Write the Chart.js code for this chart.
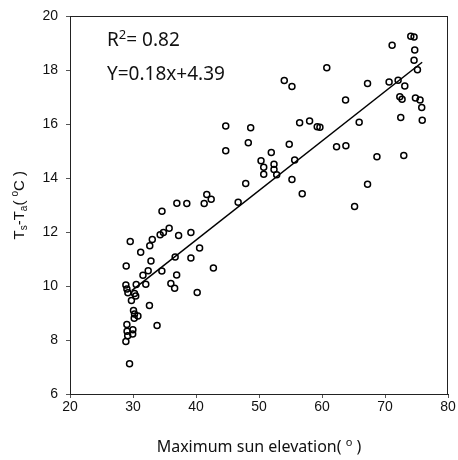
<!DOCTYPE html>
<html lang="en">

<head>
    <meta charset="UTF-8">
    <title>Ts-Ta vs maximum sun elevation</title>
    <script src="https://cdn.jsdelivr.net/npm/chart.js"></script>
    <style>
        html, body { margin: 0; padding: 0; background: #fff; }
    </style>
</head>

<body>
    <canvas id="scatterChart" width="458" height="460"></canvas>

    <script>
        // Maximum sun elevation (deg) and Ts-Ta (oC)
        const sunElevation = [
            29.45, 28.87, 29.16, 29.95, 29.06, 29.98, 29.03, 33.82, 30.08, 30.24,
            30.78, 30.19, 32.61, 29.75, 30.24, 30.43, 28.87, 29.03, 29.19, 30.51,
            32.03, 31.58, 32.41, 34.58, 36.93, 36.01, 36.61, 40.19, 42.76, 36.69,
            32.85, 39.19, 40.57, 28.92, 31.22, 32.66, 33.06, 29.56, 34.31, 34.83,
            35.74, 37.24, 39.19, 34.60, 36.96, 38.54, 41.30, 41.71, 42.41, 46.69,
            47.89, 44.72, 48.68, 44.72, 48.30, 54.01, 55.23, 60.76, 50.32, 50.75,
            50.75, 52.38, 52.38, 52.81, 51.95, 54.80, 55.66, 55.23, 56.86, 56.45,
            58.03, 59.24, 59.67, 67.23, 65.17, 68.72, 72.98, 62.31, 63.79, 65.90,
            72.50, 75.91, 75.83, 74.09, 74.61, 71.13, 74.72, 74.61, 75.15, 67.23,
            70.65, 72.08, 73.14, 63.74, 72.35, 72.71, 74.83, 75.56
        ];
        const tempDiff = [
            7.12, 7.95, 8.16, 8.22, 8.33, 8.38, 8.58, 8.54, 9.10, 8.97,
            8.89, 8.81, 9.28, 9.47, 9.73, 9.63, 10.04, 9.89, 9.75, 10.06,
            10.07, 10.40, 10.57, 10.56, 10.41, 10.10, 9.92, 9.76, 10.67, 11.08,
            10.93, 11.04, 11.41, 10.75, 11.26, 11.50, 11.73, 11.65, 11.90, 11.99,
            12.15, 11.88, 11.99, 12.78, 13.07, 13.06, 13.06, 13.40, 13.22, 13.11,
            13.80, 15.94, 15.87, 15.02, 15.32, 17.62, 17.40, 18.10, 14.65, 14.41,
            14.15, 14.52, 14.32, 14.13, 14.95, 15.26, 14.68, 13.95, 13.42, 16.06,
            16.12, 15.91, 15.89, 13.78, 12.95, 14.80, 14.84, 15.17, 15.20, 16.08,
            16.25, 16.15, 16.62, 19.26, 19.24, 18.93, 18.75, 18.37, 18.02, 17.51,
            17.57, 17.63, 17.42, 16.90, 17.02, 16.93, 16.97, 16.90
        ];

        // regression line ends as drawn
        const fitX = [29.8, 75.9];
        const fitY = [9.83, 18.3];

        const xTitle = [['Maximum sun elevation( ', 'n'], ['o', 'sup'], [' )', 'n']];
        const yTitle = [['T', 'n'], ['s', 'sub'], ['-T', 'n'], ['a', 'sub'], ['( ', 'n'], ['o', 'sup'], ['C )', 'n']];
        const r2Label = [['R', 'n'], ['2', 'sup'], ['= 0.82', 'n']];
        const eqLabel = [['Y=0.18x+4.39', 'n']];

        const points = sunElevation.map((x, i) => ({ x: x, y: tempDiff[i] }));
        const fitLine = fitX.map((x, i) => ({ x: x, y: fitY[i] }));

        // draws text with sub/superscript pieces
        function drawRich(ctx, parts, x, y, size, family, center) {
            const fontFor = p => (p === 'n' ? size : Math.round(size * 0.68)) + 'px ' + family;
            let total = 0;
            parts.forEach(([t, p]) => { ctx.font = fontFor(p); total += ctx.measureText(t).width; });
            let cx = center ? x - total / 2 : x;
            parts.forEach(([t, p]) => {
                ctx.font = fontFor(p);
                let dy = 0;
                if (p === 'sub') dy = size * 0.22;
                if (p === 'sup') dy = -size * 0.38;
                ctx.fillText(t, cx, y + dy);
                cx += ctx.measureText(t).width;
            });
        }

        const textPlugin = {
            id: 'textPlugin',
            afterDraw(chart) {
                const ctx = chart.ctx;
                const a = chart.chartArea;
                ctx.save();
                // frame round the plot
                ctx.strokeStyle = '#222';
                ctx.lineWidth = 1;
                ctx.strokeRect(Math.round(a.left) + 0.5, Math.round(a.top) + 0.5,
                    Math.round(a.right - a.left) - 1, Math.round(a.bottom - a.top));

                ctx.fillStyle = '#111';
                ctx.textBaseline = 'alphabetic';
                ctx.textAlign = 'left';
                drawRich(ctx, r2Label, 107, 46, 19, '"Noto Sans"', false);
                drawRich(ctx, eqLabel, 107, 80, 19, '"Noto Sans"', false);

                drawRich(ctx, xTitle, (a.left + a.right) / 2, 452, 16, '"Noto Sans"', true);

                ctx.translate(24, (a.top + a.bottom) / 2);
                ctx.rotate(-Math.PI / 2);
                drawRich(ctx, yTitle, 0, 0, 15, '"Liberation Sans"', true);
                ctx.restore();
            }
        };

        const tickFont = { family: 'Liberation Sans', size: 14 };

        const ctx = document.getElementById('scatterChart').getContext('2d');
        new Chart(ctx, {
            type: 'scatter',
            data: {
                datasets: [
                    {
                        type: 'line',
                        data: fitLine,
                        borderColor: '#000',
                        borderWidth: 1.5,
                        pointRadius: 0,
                        fill: false
                    },
                    {
                        data: points,
                        pointRadius: 3,
                        pointBorderWidth: 1.5,
                        borderColor: '#000',
                        backgroundColor: 'rgba(255,255,255,0)'
                    }
                ]
            },
            options: {
                responsive: false,
                animation: false,
                layout: { padding: { top: 14, right: 10, left: 0, bottom: 0 } },
                plugins: {
                    legend: { display: false },
                    tooltip: { enabled: false }
                },
                scales: {
                    x: {
                        type: 'linear',
                        min: 20,
                        max: 80,
                        ticks: { stepSize: 10, color: '#111', font: tickFont, padding: 1 },
                        grid: { drawOnChartArea: false, drawTicks: true, tickLength: 4, color: '#555' },
                        border: { color: '#222' },
                        afterFit(scale) { scale.height = 66; }
                    },
                    y: {
                        min: 6,
                        max: 20,
                        ticks: { stepSize: 2, color: '#111', font: tickFont, padding: 8 },
                        grid: { drawOnChartArea: false, drawTicks: true, tickLength: 4, color: '#555' },
                        border: { color: '#222' },
                        afterFit(scale) { scale.width = 70; }
                    }
                }
            },
            plugins: [textPlugin]
        });
    </script>
</body>

</html>
